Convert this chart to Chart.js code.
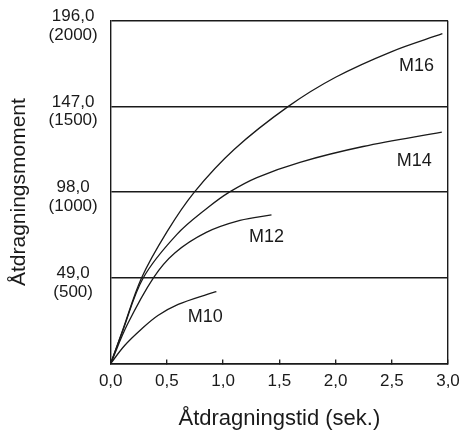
<!DOCTYPE html>
<html>
<head>
<meta charset="utf-8">
<script src="https://cdn.jsdelivr.net/npm/chart.js@4.4.1/dist/chart.umd.min.js"></script>
<style>
html,body{margin:0;padding:0;background:#fff;}
#wrap{width:460px;height:432px;}
</style>
</head>
<body>
<div id="wrap"><canvas id="c" width="460" height="432"></canvas></div>
<script>
// ---- data (time in s, moment in kgf·cm) ----
const seriesNames = ['M16', 'M14', 'M12', 'M10'];
const m16T = [0, 0.1, 0.275, 0.5, 0.744, 1.1, 1.58, 2.0, 2.5, 2.95];
const m16V = [0, 182, 500, 768, 1000, 1250, 1500, 1670, 1820, 1924];
const m14T = [0, 0.1, 0.29, 0.587, 0.865, 1.055, 1.3, 1.683, 2.245, 2.945];
const m14V = [0, 178, 500, 752, 910, 1000, 1085, 1174, 1266, 1350];
const m12T = [0, 0.15, 0.38, 0.57, 0.85, 1.15, 1.43];
const m12V = [0, 230, 500, 645, 765, 835, 867];
const m10T = [0, 0.124, 0.272, 0.42, 0.6, 0.865, 0.94];
const m10V = [0, 105, 200, 280, 345, 405, 419];
// curve label anchors (data space)
const labelT = [2.72, 2.70, 1.385, 0.84];
const labelV = [1735, 1183, 735, 270];
// tick labels
const xTickLabels = ['0,0', '0,5', '1,0', '1,5', '2,0', '2,5', '3,0'];
const yTickNm = ['', '49,0', '98,0', '147,0', '196,0'];
const yTickKgf = ['', '(500)', '(1000)', '(1500)', '(2000)'];

const FONT = '"Liberation Sans", Arial, Helvetica, sans-serif';
const INK = '#1a1a1a';

function pts(T, V) { return T.map((t, i) => ({x: t, y: V[i]})); }
const allT = [m16T, m14T, m12T, m10T];
const allV = [m16V, m14V, m12V, m10V];

const datasets = seriesNames.map((n, i) => ({
  label: n,
  data: pts(allT[i], allV[i]),
  borderColor: INK,
  borderWidth: 1.3,
  pointRadius: 0,
  fill: false,
  tension: 0.35,
  showLine: true
}));

const curveLabels = {
  id: 'curveLabels',
  afterDatasetsDraw(chart) {
    const {ctx, scales: {x, y}} = chart;
    ctx.save();
    ctx.fillStyle = INK;
    ctx.font = '18px ' + FONT;
    ctx.textAlign = 'center';
    ctx.textBaseline = 'middle';
    seriesNames.forEach((n, i) => {
      ctx.fillText(n, x.getPixelForValue(labelT[i]), y.getPixelForValue(labelV[i]));
    });
    ctx.restore();
  }
};

new Chart(document.getElementById('c'), {
  type: 'scatter',
  data: {datasets},
  options: {
    responsive: false,
    animation: false,
    events: [],
    layout: {padding: {top: 20.7, right: 12, left: 0, bottom: 0}},
    plugins: {legend: {display: false}, tooltip: {enabled: false}},
    scales: {
      x: {
        type: 'linear', min: 0, max: 3,
        afterFit(s) { s.height = 68.5; s.paddingLeft = 0; s.paddingRight = 0; },
        ticks: {
          stepSize: 0.5,
          color: INK,
          font: {family: FONT, size: 17},
          padding: 12,
          maxRotation: 0,
          callback: (v) => xTickLabels[Math.round(v * 2)]
        },
        grid: {
          color: (c) => (c.tick && c.tick.value === 3) ? INK : 'rgba(0,0,0,0)',
          lineWidth: 1.4,
          drawTicks: true,
          tickLength: -4,
          tickColor: INK,
          tickWidth: 1.3
        },
        border: {display: true, color: INK, width: 1.4},
        title: {
          display: true,
          text: 'Åtdragningstid (sek.)',
          color: INK,
          font: {family: FONT, size: 22},
          padding: {top: 0, bottom: 0}
        }
      },
      y: {
        type: 'linear', min: 0, max: 2000,
        afterFit(s) { s.width = 110.7; s.paddingTop = 0; s.paddingBottom = 0; },
        ticks: {
          stepSize: 500,
          color: INK,
          font: {family: FONT, size: 17, lineHeight: 1.1},
          padding: 13,
          crossAlign: 'center',
          labelOffset: 5,
          callback: (v) => {
            const i = Math.round(v / 500);
            return i === 0 ? '' : [yTickNm[i], yTickKgf[i]];
          }
        },
        grid: {
          color: INK,
          lineWidth: 1.4,
          drawTicks: false
        },
        border: {display: true, color: INK, width: 1.4},
        title: {
          display: true,
          text: 'Åtdragningsmoment',
          color: INK,
          font: {family: FONT, size: 21},
          padding: {top: 7, bottom: 0}
        }
      }
    }
  },
  plugins: [curveLabels]
});
</script>
</body>
</html>
